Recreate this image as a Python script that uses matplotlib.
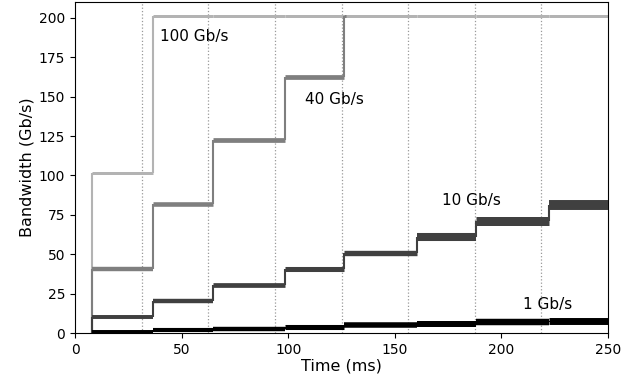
import numpy as np
import matplotlib
matplotlib.use("Agg")
import matplotlib.pyplot as plt

## data (time in ms, bandwidth in Gb/s)
t_steps = [8.1, 36.4, 64.6, 98.5, 126.3, 160.6, 188.1, 222.5, 250]
bw_100g = [101.7, 200.8, 200.8, 200.8, 200.8, 200.8, 200.8, 200.8]
bw_40g = [40.8, 81.9, 122.7, 162.7, 200.8]
bw_10g = [10.4, 20.4, 30.4, 40.6, 50.7, 60.7, 71.1, 81.1]
bw_1g = [1.0, 1.8, 2.8, 3.9, 4.9, 5.9, 6.9, 7.9]
# jitter band: full height of the noisy trace per step (Gb/s)
band_100g = [1.9] * 8
band_40g = [2.8, 2.9, 3.0, 3.0, 1.9]
band_10g = [2.5, 2.8, 3.0, 3.2, 3.4, 5.1, 5.7, 6.3]
band_1g = [2.5, 2.6, 2.8, 3.2, 3.5, 3.8, 4.1, 4.4]

epochs = np.arange(31.25, 250, 31.25)

labels = ["100 Gb/s", "40 Gb/s", "10 Gb/s", "1 Gb/s"]
label_pos = [(40, 188), (108, 148), (172, 84), (210, 18)]

YMAX = 210

fig = plt.figure(figsize=(6.25, 3.83), dpi=100)
ax = fig.add_axes([0.12, 0.13, 0.853, 0.865])
# points per Gb/s on the y axis
pt_per_unit = 0.865 * 3.83 * 72 / YMAX


def draw(vals, band, color, z, start=0.0, t_end=None):
    n = len(vals)
    ends = list(t_steps[1:n + 1])
    if t_end is not None:
        ends[-1] = t_end
    # rises
    lows = [start] + list(vals[:-1])
    ax.vlines(t_steps[:n], lows, vals, color=color, lw=1.5, zorder=z)
    # noisy plateaus
    for i in range(n):
        ax.hlines(vals[i], t_steps[i], ends[i], color=color,
                  lw=band[i] * pt_per_unit, zorder=z, capstyle="butt")


for e in epochs:
    ax.axvline(e, color="#999999", ls=":", lw=0.9, zorder=0)

draw(bw_100g, band_100g, "#b3b3b3", 2)
draw(bw_40g, band_40g, "#7f7f7f", 3, t_end=t_steps[4] + 0.6)
draw(bw_10g, band_10g, "#404040", 4)
draw(bw_1g, band_1g, "black", 5, start=bw_1g[0])

for txt, (tx, ty) in zip(labels, label_pos):
    ax.text(tx, ty, txt, fontsize=11, va="center", ha="left")

ax.set_xlim(0, 250)
ax.set_ylim(0, YMAX)
ax.set_xticks(np.arange(0, 251, 50))
ax.set_yticks(np.arange(0, 201, 25))
ax.set_xlabel("Time (ms)", fontsize=11.5, labelpad=1)
ax.set_ylabel("Bandwidth (Gb/s)", fontsize=11.5, labelpad=3)
ax.tick_params(labelsize=10)

fig.savefig("out.png", dpi=100)
